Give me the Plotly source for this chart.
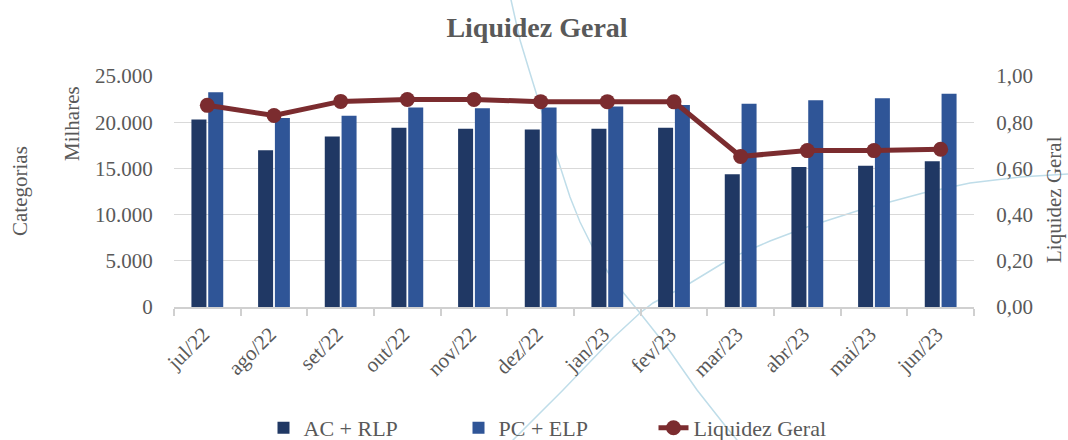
import plotly.graph_objects as go

categorias = ["jul/22", "ago/22", "set/22", "out/22", "nov/22", "dez/22",
              "jan/23", "fev/23", "mar/23", "abr/23", "mai/23", "jun/23"]
ac_rlp = [20280, 16960, 18440, 19400, 19300, 19200, 19300, 19400, 14360, 15150, 15300, 15770]
pc_elp = [23240, 20460, 20710, 21600, 21500, 21600, 21700, 21850, 22010, 22370, 22590, 23090]
liquidez_geral = [0.873, 0.829, 0.890, 0.898, 0.898, 0.889, 0.889, 0.888, 0.652, 0.677, 0.677, 0.683]

W, H = 1068, 440
L, R, T, B = 174, 94, 76, 133
PW, PH = W - L - R, H - T - B

TXT = "#595959"
FONT = "Liberation Serif"


def px2paper(pts):
    return [((x - L) / PW, (H - B - y) / PH) for x, y in pts]


def path(pts):
    p = px2paper(pts)
    return "M " + " L ".join(f"{x:.4f},{y:.4f}" for x, y in p)


deco1 = [(508, -10), (511, 0), (520, 40), (530, 73), (543, 115), (558, 160), (570, 197),
         (580, 222), (595, 252), (613, 280), (640, 313), (667, 347), (697, 390), (723, 423),
         (737, 440), (745, 450)]
deco2 = [(505, 450), (513, 440), (563, 390), (613, 338), (640, 313), (653, 303), (687, 285),
         (733, 257), (770, 241), (807, 227), (860, 210), (923, 193), (970, 183), (1020, 177),
         (1068, 174)]

fig = go.Figure()
fig.add_trace(go.Bar(name="AC + RLP", x=categorias, y=ac_rlp, marker_color="#203864",
                     marker_line_width=0))
fig.add_trace(go.Bar(name="PC + ELP", x=categorias, y=pc_elp, marker_color="#2F5597",
                     marker_line_width=0))
fig.add_trace(go.Scatter(name="Liquidez Geral", x=categorias, y=liquidez_geral, yaxis="y2",
                         mode="lines+markers", line=dict(color="#7B2C2F", width=5),
                         marker=dict(color="#7B2C2F", size=15)))

shapes = []
for d in (deco1, deco2):
    shapes.append(dict(type="path", path=path(d), xref="paper", yref="paper",
                       line=dict(color="#BFDDE9", width=1.5), layer="below"))

fig.update_layout(
    width=W, height=H,
    margin=dict(l=L, r=R, t=T, b=B, autoexpand=False),
    paper_bgcolor="white", plot_bgcolor="rgba(0,0,0,0)",
    separators=",.",
    font=dict(family=FONT, color=TXT, size=21),
    barmode="group", bargap=0.496, bargroupgap=0.107,
    title=dict(text="<b>Liquidez Geral</b>", x=537 / W, xref="container", xanchor="center",
               y=1 - 27 / H, yref="container", yanchor="middle",
               font=dict(family=FONT, size=28, color=TXT)),
    xaxis=dict(range=[-0.5, len(categorias) - 0.5], autorange=False,
               showline=True, linecolor="#D0D0D0", linewidth=1.5, ticks="outside",
               tickson="boundaries", ticklen=7, tickcolor="#D0D0D0", tickwidth=1.5,
               tickangle=-45, showgrid=False, ticklabelstandoff=5, ticklabelshift=-4,
               automargin=False, tickfont=dict(size=21, color=TXT)),
    yaxis=dict(range=[0, 25000], dtick=5000, tickformat=",d", showgrid=True,
               gridcolor="#D9D9D9", gridwidth=1.2, zeroline=False, showline=False,
               ticks="outside", ticklen=16, tickcolor="rgba(0,0,0,0)", automargin=False,
               tickfont=dict(size=21, color=TXT)),
    yaxis2=dict(range=[0, 1], dtick=0.2, tickformat=".2f", overlaying="y", side="right",
                showgrid=False, zeroline=False, showline=False, automargin=False,
                ticks="outside", ticklen=17, tickcolor="rgba(0,0,0,0)",
                tickfont=dict(size=21, color=TXT)),
    legend=dict(orientation="h", xref="container", yref="container",
                x=556 / W, xanchor="center", y=1 - 428 / H, yanchor="middle",
                bgcolor="rgba(0,0,0,0)",
                font=dict(size=22, color=TXT), traceorder="normal",
                entrywidth=150, entrywidthmode="pixels"),
    shapes=shapes,
    annotations=[
        dict(text="Categorias", x=20, y=191, xref="paper", yref="paper", showarrow=False,
             textangle=-90, font=dict(size=21, color=TXT)),
        dict(text="Milhares", x=72, y=124, xref="paper", yref="paper", showarrow=False,
             textangle=-90, font=dict(size=21, color=TXT)),
        dict(text="Liquidez Geral", x=1054, y=200, xref="paper", yref="paper", showarrow=False,
             textangle=-90, font=dict(size=21, color=TXT)),
    ],
)

# convert annotation pixel positions to paper coords
for a in fig.layout.annotations:
    a.x = (a.x - L) / PW
    a.y = (H - B - a.y) / PH
    a.xanchor = "center"
    a.yanchor = "middle"

fig.write_html("out.html", config={"displayModeBar": False},
               post_script="document.body.style.margin='0';document.body.style.overflow='hidden';")
